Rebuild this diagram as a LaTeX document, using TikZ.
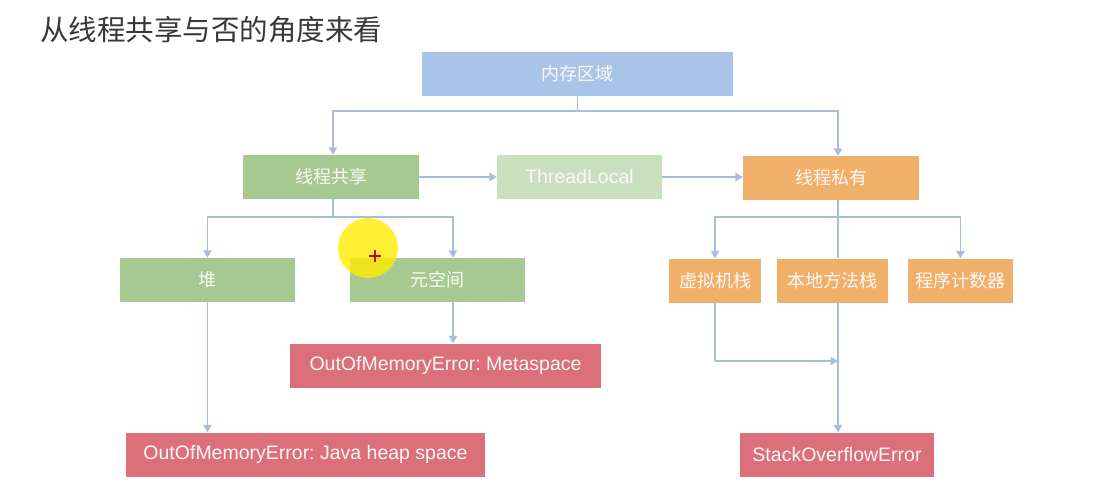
\documentclass[tikz,border=0pt]{standalone}
\usepackage{fontspec}
\setmainfont{Liberation Sans}
\newfontfamily\cjk{Noto Sans CJK SC}
\usetikzlibrary{arrows.meta}
\definecolor{cblue}{RGB}{170,196,232}
\definecolor{cgreen}{RGB}{166,201,146}
\definecolor{clgreen}{RGB}{201,223,190}
\definecolor{corange}{RGB}{241,176,106}
\definecolor{cred}{RGB}{220,112,122}
\definecolor{cline}{RGB}{165,190,222}
\definecolor{ctext}{RGB}{252,248,246}
\frenchspacing
\begin{document}
\begin{tikzpicture}[x=1pt,y=-1pt,
  box/.style={draw=none,inner sep=0pt,minimum height=44pt,text=ctext,font=\cjk\fontsize{18}{20}\selectfont},
  lat/.style={font=\fontsize{19.5}{22}\selectfont},
  conn/.style={draw=cline,line width=1.4pt},
  arr/.style={conn,-{Triangle[width=8.5pt,length=7.5pt]}}]
\useasboundingbox (0,0) rectangle (1120,498);
\fill[white] (0,0) rectangle (1120,498);
\node[anchor=west,inner sep=0pt,font=\cjk\fontsize{28.5}{30}\selectfont,text=black!78] (title) at (40,30) {从线程共享与否的角度来看};
\node[box,fill=cblue,minimum width=311pt] (mem) at (577.5,74) {内存区域};
\node[box,fill=cgreen,minimum width=176pt] (share) at (331,177) {线程共享};
\node[box,fill=clgreen,minimum width=165pt,lat] (tl) at (579.5,177) {ThreadLocal};
\node[box,fill=corange,minimum width=176pt] (priv) at (831,178) {线程私有};
\node[box,fill=cgreen,minimum width=175pt] (heap) at (207.5,280) {堆};
\node[box,fill=cgreen,minimum width=175pt] (meta) at (437.5,280) {元空间};
\node[box,fill=cred,minimum width=311pt,lat] (oomm) at (445.5,365.5) {OutOfMemoryError: Metaspace};
\node[box,fill=cred,minimum width=359pt,lat] (oomh) at (305.5,454.5) {OutOfMemoryError: Java heap space};
\node[box,fill=corange,minimum width=92pt] (vm) at (715,280.5) {虚拟机栈};
\node[box,fill=corange,minimum width=111pt] (nm) at (832.5,280.5) {本地方法栈};
\node[box,fill=corange,minimum width=105pt] (pc) at (960.5,280.5) {程序计数器};
\node[box,fill=cred,minimum width=194pt,lat] (so) at (837,454.5) {StackOverflowError};
% top fork
\coordinate (f1) at (577.5,111);
\draw[conn] (mem.south) -- (f1);
\draw[arr] (f1) -| ([xshift=2pt]share.north);
\draw[arr] (f1) -| ([xshift=7pt]priv.north);
% horizontal
\draw[arr] (share.east) -- (tl.west);
\draw[arr] (tl.east) -- (priv.west |- tl.east);
% share fork
\coordinate (f2) at (333,217);
\draw[conn] ([xshift=2pt]share.south) -- (f2);
\draw[arr] (f2) -| (heap.north);
\draw[arr] (f2) -| ([xshift=15.5pt]meta.north);
% priv fork
\coordinate (f3) at (838,217);
\draw[conn] ([xshift=7pt]priv.south) -- (f3);
\draw[arr] (f3) -| (vm.north);
\draw[arr] (f3) -| (pc.north);
\draw[conn] (f3) -- ([xshift=5.5pt]nm.north);
% errors
\draw[arr] ([xshift=15.5pt]meta.south) -- ([xshift=15.5pt]meta.south |- oomm.north);
\draw[arr] (heap.south) -- (heap.south |- oomh.north);
\draw[arr] ([xshift=5.5pt]nm.south) -- ([xshift=5.5pt]nm.south |- so.north);
\coordinate (vmc) at (714,361);
\draw[conn] (vm.south) -- (vm.south |- vmc);
\draw[arr] (vm.south |- vmc) -- (838,361);
% cursor highlight
\fill[yellow!95!orange,opacity=0.8] (368,248) circle (30pt);
\draw[red!85!black,line width=2pt] (369,256) -- (381,256) (375,250) -- (375,262);
\end{tikzpicture}
\end{document}
